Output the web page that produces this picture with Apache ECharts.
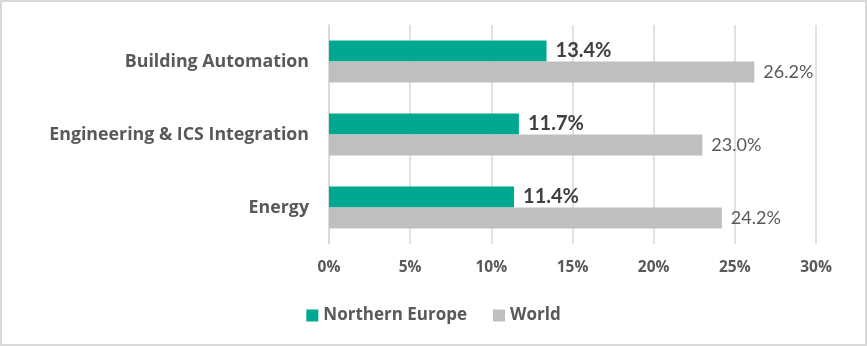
<!DOCTYPE html>
<html>
<head>
<meta charset="utf-8">
<script src="https://cdn.jsdelivr.net/npm/echarts@6/dist/echarts.min.js"></script>
<style>
  html, body { margin: 0; padding: 0; background: #fff; }
  #chart { width: 867px; height: 346px; box-sizing: border-box; border: 2px solid #D9D9D9; }
</style>
</head>
<body>
<div id="chart"></div>
<script>
// Market share by segment, Northern Europe vs. World (percent)
const categories = ['Building Automation', 'Engineering & ICS Integration', 'Energy'];
const northernEurope = [13.4, 11.7, 11.4];
const world = [26.2, 23.0, 24.2];
const seriesNames = ['Northern Europe', 'World'];
const axisMax = 30;
const axisStep = 5;

const chart = echarts.init(document.getElementById('chart'), null, { renderer: 'canvas' });
const FONT = '"Open Sans", "Noto Sans", sans-serif';
const LABEL_FONT = 'Lato, "Noto Sans", sans-serif';

chart.setOption({
  animation: false,
  backgroundColor: '#fff',
  grid: { left: 327, right: 49, top: 23, bottom: 100, containLabel: false },
  legend: {
    data: seriesNames,
    left: 'center',
    top: 300,
    itemWidth: 12,
    itemHeight: 12,
    itemGap: 26,
    icon: 'rect',
    textStyle: { fontFamily: FONT, fontWeight: 'bold', fontSize: 17, color: '#595959' }
  },
  xAxis: {
    type: 'value',
    min: 0,
    max: axisMax,
    interval: axisStep,
    axisLine: { show: false },
    axisTick: { show: false },
    splitLine: { show: true, lineStyle: { color: '#D9D9D9', width: 1.5 } },
    axisLabel: {
      formatter: '{value}%',
      margin: 16,
      fontFamily: FONT,
      fontWeight: 'bold',
      fontSize: 15.5,
      color: '#595959'
    }
  },
  yAxis: {
    type: 'category',
    data: categories,
    inverse: true,
    axisLine: { show: true, lineStyle: { color: '#D9D9D9', width: 1.5 } },
    axisTick: { show: false },
    axisLabel: {
      margin: 20,
      padding: [4, 0, 0, 0],
      fontFamily: FONT,
      fontWeight: 'bold',
      fontSize: 17.8,
      color: '#595959'
    }
  },
  series: [
    {
      name: seriesNames[0],
      type: 'bar',
      data: northernEurope,
      barWidth: 21,
      barGap: '0%',
      itemStyle: { color: '#00A88F' },
      label: {
        show: true,
        position: 'right',
        distance: 9,
        formatter: p => p.value.toFixed(1) + '%',
        fontFamily: LABEL_FONT,
        fontWeight: 'bold',
        fontSize: 20,
        color: '#404040'
      }
    },
    {
      name: seriesNames[1],
      type: 'bar',
      data: world,
      barWidth: 21,
      barGap: '0%',
      itemStyle: { color: '#BFBFBF' },
      label: {
        show: true,
        position: 'right',
        distance: 9,
        formatter: p => p.value.toFixed(1) + '%',
        fontFamily: LABEL_FONT,
        fontSize: 18,
        color: '#595959'
      }
    }
  ]
});
</script>
</body>
</html>
